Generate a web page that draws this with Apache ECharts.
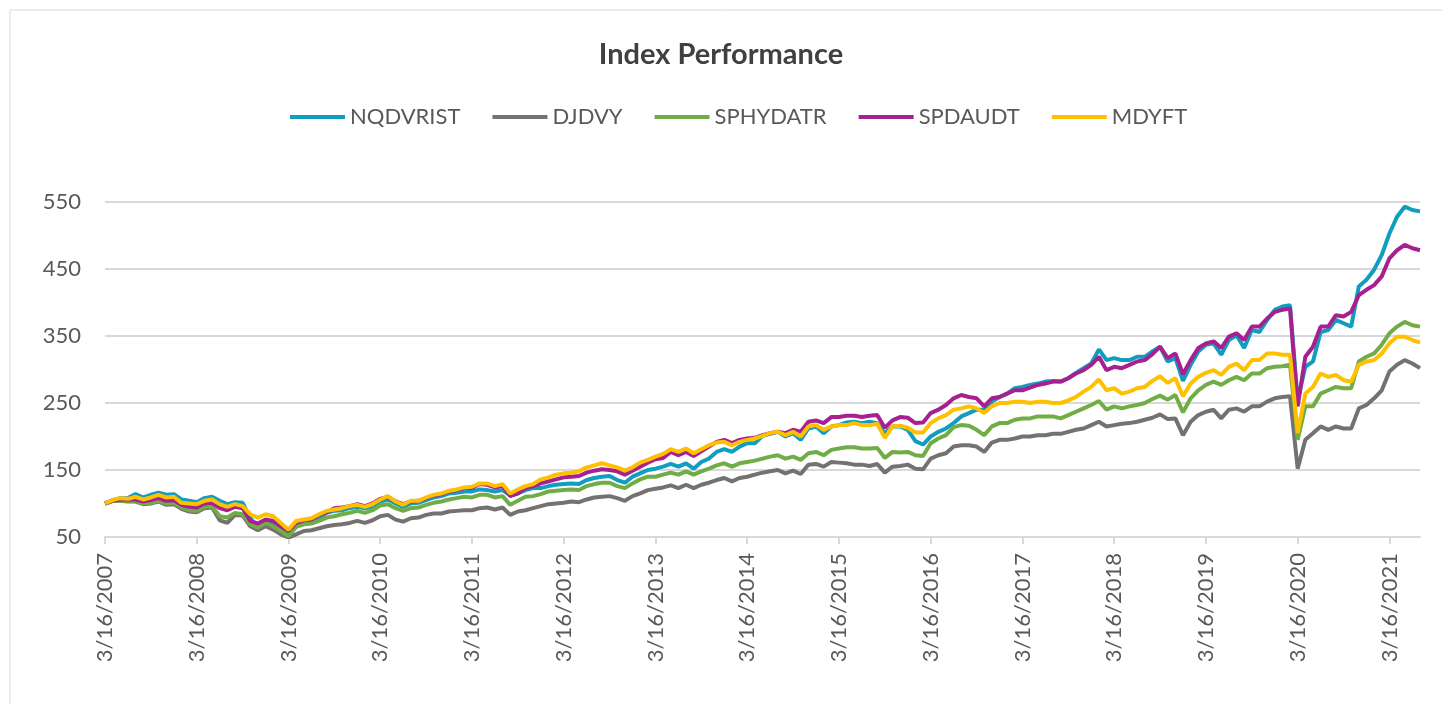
<!DOCTYPE html>
<html>
<head>
<meta charset="utf-8">
<title>Index Performance</title>
<script src="https://cdn.jsdelivr.net/npm/echarts@6/dist/echarts.min.js"></script>
<style>
  html, body { margin: 0; padding: 0; background: #fff; }
  #main { width: 1442px; height: 704px; }
</style>
</head>
<body>
<div id="main"></div>
<script>
// monthly samples (16th of each month), 3/16/2007 .. 7/16/2021
var seriesNames = ['NQDVRIST', 'DJDVY', 'SPHYDATR', 'SPDAUDT', 'MDYFT'];
var seriesColors = ['#119dbf', '#767171', '#70ad47', '#a6218f', '#ffc000'];
var yTicks = [50, 150, 250, 350, 450, 550];

var nqdvrist = [].concat(
  [100,105,108,108,114,109,113,116,113,114],
  [106,104,102,108,110,104,99,102,101,79,62,74],
  [71,64,56,69,74,74,79,86,89,90,93,95],
  [93,95,103,106,100,95,100,101,105,109,111,115],
  [116,118,118,121,120,118,120,112,115,120,123,123],
  [126,128,129,130,129,135,138,140,141,135,131,140],
  [145,150,152,155,159,155,160,152,162,167,177,181],
  [177,185,190,190,201,204,207,200,205,195,212,215],
  [205,215,217,221,222,220,222,220,205,215,215,210],
  [193,188,200,207,212,220,230,235,240,240,252,259],
  [264,272,274,277,279,282,283,282,287,295,302,309],
  [330,314,317,314,314,319,319,327,334,312,317,283],
  [307,327,337,339,322,344,351,332,359,356,374,389],
  [394,396,254,304,312,356,359,374,369,364,424,434],
  [449,471,503,528,543,538,536]
);

var djdvy = [].concat(
  [100,104,104,103,103,99,100,103,98,99],
  [92,88,87,93,94,75,71,83,82,66,60,66],
  [61,54,49,54,59,60,63,66,68,69,71,74],
  [71,75,81,83,76,73,78,79,83,85,85,88],
  [89,90,90,93,94,91,94,83,88,90,93,96],
  [99,100,101,103,102,106,109,110,111,108,104,111],
  [115,120,122,124,127,123,128,123,128,131,135,138],
  [133,138,140,143,146,148,150,145,149,144,158,159],
  [155,162,161,160,158,158,156,159,146,155,156,158],
  [152,151,167,172,175,185,187,187,185,177,191,195],
  [195,197,200,200,202,202,204,204,207,210,212,217],
  [222,215,217,219,220,222,225,228,233,226,227,202],
  [222,232,237,240,227,240,242,237,245,245,252,257],
  [259,260,152,195,205,215,210,215,212,212,242,247],
  [257,269,297,307,314,309,302]
);

var sphydatr = [].concat(
  [100,104,104,104,104,100,101,104,100,101],
  [94,90,89,95,96,81,79,86,84,69,64,71],
  [66,59,51,65,69,70,74,79,81,84,86,89],
  [86,90,97,99,93,89,93,94,98,101,103,106],
  [108,110,109,113,113,109,111,98,104,110,111,114],
  [118,119,120,121,120,126,129,131,131,126,123,130],
  [136,140,140,143,146,143,148,143,148,152,157,160],
  [155,160,162,164,167,170,172,167,170,165,175,177],
  [172,180,182,184,184,182,182,183,168,177,176,177],
  [172,171,190,197,202,214,217,216,210,202,215,220],
  [220,225,227,227,230,230,230,227,232,237,242,247],
  [253,240,245,242,245,247,250,256,261,255,262,236],
  [257,269,277,282,277,284,289,284,294,294,302,304],
  [305,307,195,245,245,264,269,274,272,272,312,319],
  [324,337,354,364,371,366,364]
);

var spdaudt = [].concat(
  [100,104,106,106,106,103,105,108,104,105],
  [98,95,94,100,101,93,90,95,93,74,70,76],
  [74,66,59,71,75,76,83,87,93,94,96,99],
  [96,100,107,110,103,99,103,104,108,112,114,118],
  [120,123,123,129,128,124,126,111,115,123,126,130],
  [133,136,139,140,141,146,149,151,150,148,143,149],
  [155,161,166,168,177,172,177,171,178,185,192,195],
  [190,195,197,198,202,205,207,205,210,207,222,224],
  [220,229,229,231,231,229,231,232,213,224,229,228],
  [220,221,235,240,247,257,262,259,257,245,257,259],
  [264,269,269,273,277,279,282,282,287,294,299,307],
  [319,299,304,302,307,312,314,323,334,317,324,293],
  [314,332,339,342,332,349,354,344,364,364,376,386],
  [389,391,245,319,334,364,364,381,379,386,411,419],
  [426,439,466,478,486,481,478]
);

var mdyft = [].concat(
  [100,105,108,107,110,106,109,113,109,110],
  [101,100,99,104,106,99,95,99,96,84,79,84],
  [81,71,61,74,76,78,84,89,91,93,96,98],
  [95,99,106,111,103,98,104,104,109,113,115,119],
  [121,124,125,130,130,126,129,115,121,126,129,136],
  [139,143,145,146,148,154,157,160,157,154,149,154],
  [161,165,170,174,181,177,182,175,181,187,191,192],
  [187,192,195,197,201,205,207,202,207,200,215,217],
  [210,215,217,217,220,217,217,219,198,215,216,213],
  [206,206,220,227,232,240,242,245,242,235,245,250],
  [250,252,252,250,252,252,250,250,254,259,267,274],
  [285,269,272,264,267,272,274,283,290,280,287,260],
  [279,289,295,299,292,304,309,299,314,314,324,324],
  [322,322,205,264,274,294,289,292,284,282,307,312],
  [314,324,339,349,349,344,340]
);

// category dates m/16/yyyy
var dates = [];
var yr = 2007, mo = 3;
while (yr < 2021 || (yr == 2021 && mo <= 7)) {
  dates.push(mo + '/16/' + yr);
  mo++;
  if (mo > 12) { mo = 1; yr++; }
}

function isMarch(index, value) {
  return String(value).indexOf('3/16/') === 0;
}

var allData = [nqdvrist, djdvy, sphydatr, spdaudt, mdyft];
var series = [];
for (var i = 0; i < seriesNames.length; i++) {
  series.push({
    name: seriesNames[i],
    type: 'line',
    data: allData[i],
    showSymbol: false,
    symbol: 'none',
    lineStyle: { width: 4, color: seriesColors[i] },
    itemStyle: { color: seriesColors[i] }
  });
}

var myChart = echarts.init(document.getElementById('main'));
var option = {
  animation: false,
  textStyle: { fontFamily: 'Lato' },
  graphic: [{
    type: 'rect',
    shape: { x: 10, y: 10, width: 1440, height: 700 },
    style: { fill: 'none', stroke: '#d9d9d9', lineWidth: 1 },
    silent: true
  }],
  title: {
    text: 'Index Performance',
    left: 'center',
    top: 35,
    textStyle: { fontFamily: 'Lato', fontSize: 29, fontWeight: 'bold', color: '#404040' }
  },
  legend: {
    data: seriesNames,
    left: 285,
    top: 101,
    itemWidth: 55,
    itemHeight: 4,
    itemGap: 32,
    icon: 'rect',
    textStyle: { fontFamily: 'Lato', fontSize: 22, color: '#595959' }
  },
  grid: {
    left: 105,
    right: 22,
    top: 202,
    bottom: 167,
    containLabel: false
  },
  xAxis: {
    type: 'category',
    data: dates,
    boundaryGap: false,
    axisLine: { lineStyle: { color: '#d9d9d9', width: 2 } },
    axisTick: { show: true, interval: isMarch, length: 7, lineStyle: { color: '#d9d9d9', width: 2 } },
    axisLabel: {
      interval: isMarch,
      rotate: 90,
      margin: 16,
      fontFamily: 'Lato',
      fontSize: 22,
      color: '#595959'
    },
    splitLine: { show: false }
  },
  yAxis: {
    type: 'value',
    min: yTicks[0],
    max: yTicks[yTicks.length - 1],
    interval: 100,
    axisLine: { show: false },
    axisTick: { show: false },
    axisLabel: { margin: 24, fontFamily: 'Lato', fontSize: 22, color: '#595959' },
    splitLine: { lineStyle: { color: '#d9d9d9', width: 2 } }
  },
  series: series
};
myChart.setOption(option);
</script>
</body>
</html>
